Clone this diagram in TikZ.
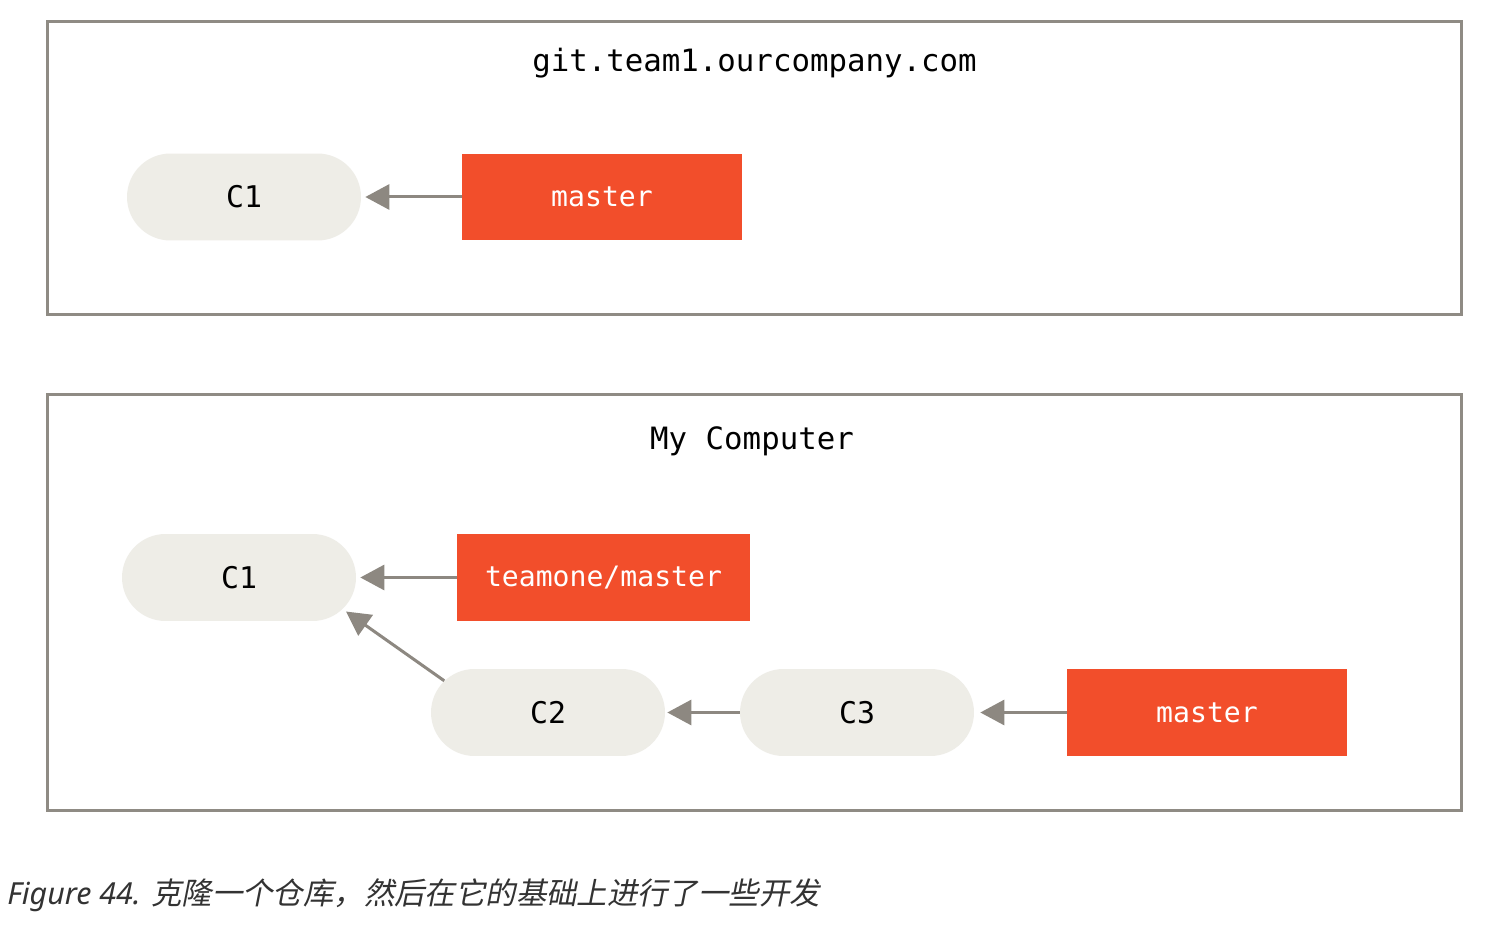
\documentclass[tikz,border=0pt]{standalone}
\usepackage{fontspec}
\setmonofont{DejaVu Sans Mono}
\newfontfamily\capfont{Noto Sans}
\newfontfamily\cjk{Noto Sans CJK SC}[FakeSlant=0.2]
\usetikzlibrary{arrows.meta,shapes.misc}
\definecolor{framegray}{HTML}{8F8B84}
\definecolor{arrowgray}{HTML}{8D8881}
\definecolor{commitfill}{HTML}{EEEDE7}
\definecolor{branchred}{HTML}{F24E2B}
\definecolor{captext}{HTML}{333333}
\tikzset{
  repobox/.style={draw=framegray, line width=0.06cm, minimum width=28.28cm, inner sep=0pt},
  commit/.style={rounded rectangle, fill=commitfill, minimum width=4.68cm, minimum height=1.74cm,
    inner sep=0pt, font=\ttfamily\fontsize{17}{20}\selectfont},
  branch/.style={fill=branchred, text=white, minimum height=1.74cm, inner sep=0pt,
    font=\ttfamily\fontsize{16}{19}\selectfont},
  reponame/.style={anchor=base, font=\ttfamily\fontsize{17.5}{21}\selectfont},
}
\begin{document}
\begin{tikzpicture}[x=0.02cm, y=-0.02cm, >={Triangle[length=0.48cm,width=0.5cm]}]
        \useasboundingbox (0,0) rectangle (1486,928);
        \fill [white] (0,0) rectangle (1486,928);
        % remote server
        \node [repobox, minimum height=5.88cm] (remote) at (754.5,168) {};
        \node [reponame] (remotename) at (754.5,72) {git.team1.ourcompany.com};
        \node [commit] (rc1) at (244,197) {C1};
        \node [branch, minimum width=5.6cm] (rmaster) at (602,197) {master};
        \draw [->, draw=arrowgray, fill=arrowgray, line width=0.06cm, shorten >=0.08cm] (rmaster.west) -- (rc1.east);
        % local clone
        \node [repobox, minimum height=8.34cm] (local) at (754.5,602.5) {};
        \node [reponame] (localname) at (752,450) {My Computer};
        \node [commit] (c1) at (239,577.5) {C1};
        \node [commit] (c2) at (548,712.5) {C2};
        \node [commit] (c3) at (857,712.5) {C3};
        \node [branch, minimum width=5.86cm] (teamone) at (603.5,577.5) {teamone/master};
        \node [branch, minimum width=5.6cm] (master) at (1207,712.5) {master};
        \draw [->, draw=arrowgray, fill=arrowgray, line width=0.06cm, shorten >=0.08cm] (teamone.west) -- (c1.east);
        \draw [->, draw=arrowgray, fill=arrowgray, line width=0.06cm, shorten >=0.08cm] (c2.163) -- (c1.343);
        \draw [->, draw=arrowgray, fill=arrowgray, line width=0.06cm, shorten >=0.04cm] (c3.west) -- (c2.east);
        \draw [->, draw=arrowgray, fill=arrowgray, line width=0.06cm, shorten >=0.12cm] (master.west) -- (c3.east);
        \node [anchor=base west, inner sep=0pt, text=captext, font=\fontsize{17.3}{21}\selectfont] (caption) at (7,904)
          {{\capfont\itshape Figure 44. }{\cjk 克隆一个仓库，然后在它的基础上进行了一些开发}};
\end{tikzpicture}
\end{document}
